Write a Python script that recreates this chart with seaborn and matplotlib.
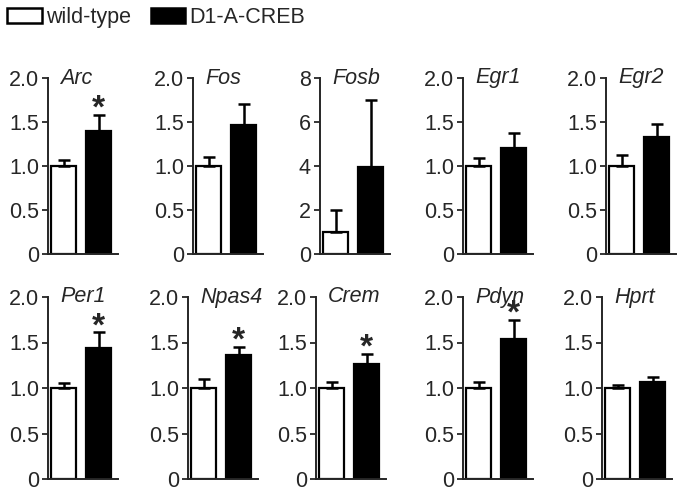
import seaborn as sns
import matplotlib.pyplot as plt
import pandas as pd
from matplotlib.patches import Patch

genes = ['Arc', 'Fos', 'Fosb', 'Egr1', 'Egr2', 'Per1', 'Npas4', 'Crem', 'Pdyn', 'Hprt']
groups = ['wild-type', 'D1-A-CREB']
wt_mean = [1.0, 1.0, 1.0, 1.0, 1.0, 1.0, 1.0, 1.0, 1.0, 1.0]
wt_sem = [0.07, 0.10, 1.0, 0.09, 0.13, 0.05, 0.10, 0.07, 0.07, 0.03]
creb_mean = [1.40, 1.47, 3.95, 1.20, 1.33, 1.44, 1.36, 1.26, 1.54, 1.07]
creb_sem = [0.18, 0.24, 3.05, 0.18, 0.15, 0.17, 0.09, 0.11, 0.21, 0.05]
significant = [True, False, False, False, False, True, True, True, True, False]
ymax = [2, 2, 8, 2, 2, 2, 2, 2, 2, 2]

sns.set_style('ticks')
plt.rcParams['font.family'] = ['Liberation Sans', 'DejaVu Sans']

fig = plt.figure(figsize=(6.8, 4.93), dpi=100)

# axes left edges in pixels (spine positions)
lefts = [48, 193, 320, 463, 606, 48, 188, 316, 463, 602]
W, H = 680, 493
fs = 15.5

for i, g in enumerate(genes):
    row = i // 5
    if row == 0:
        bottom, top = 254, 78
    else:
        bottom, top = 479, 297
    ax = fig.add_axes([lefts[i] / W, 1 - bottom / H, 70 / W, (bottom - top) / H])
    df = pd.DataFrame({'group': groups, 'value': [wt_mean[i], creb_mean[i]]})
    sns.barplot(data=df, x='group', y='value', hue='group', palette=['white', 'black'],
                edgecolor='black', linewidth=1.6, width=0.72, legend=False, ax=ax)
    ax.errorbar([0, 1], df['value'], yerr=[[0, 0], [wt_sem[i], creb_sem[i]]],
                fmt='none', ecolor='black', elinewidth=1.8, capsize=4.5, capthick=1.8, zorder=1)
    ax.set_xlim(-0.45, 1.55)
    ax.set_ylim(0, ymax[i])
    if ymax[i] == 2:
        ax.set_yticks([0, 0.5, 1.0, 1.5, 2.0])
        ax.set_yticklabels(['0', '0.5', '1.0', '1.5', '2.0'])
    else:
        ax.set_yticks([0, 2, 4, 6, 8])
        ax.set_yticklabels(['0', '2', '4', '6', '8'])
    ax.set_xticks([])
    ax.set_xlabel('')
    ax.set_ylabel('')
    ax.tick_params(axis='y', labelsize=fs, length=4, width=1.3, pad=2.5, direction='out')
    for s in ['top', 'right']:
        ax.spines[s].set_visible(False)
    for s in ['left', 'bottom']:
        ax.spines[s].set_linewidth(1.4)
    ax.text(0.17, 1.0, g, transform=ax.transAxes, ha='left', va='center',
            fontsize=fs, style='italic')
    if significant[i]:
        ax.annotate('*', xy=(1, creb_mean[i] + creb_sem[i]), xytext=(0, -7),
                    textcoords='offset points', ha='center', va='bottom',
                    fontsize=24, fontweight='bold', annotation_clip=False)

handles = [Patch(facecolor='white', edgecolor='black', linewidth=1.8),
           Patch(facecolor='black', edgecolor='black', linewidth=1.8)]
fig.legend(handles, groups, loc='upper left', bbox_to_anchor=(-0.008, 1.012), ncol=2,
           frameon=False, fontsize=fs, handlelength=1.6, handleheight=0.75,
           handletextpad=0.2, columnspacing=0.9, borderaxespad=0.2)

fig.savefig('out.png', dpi=100)
